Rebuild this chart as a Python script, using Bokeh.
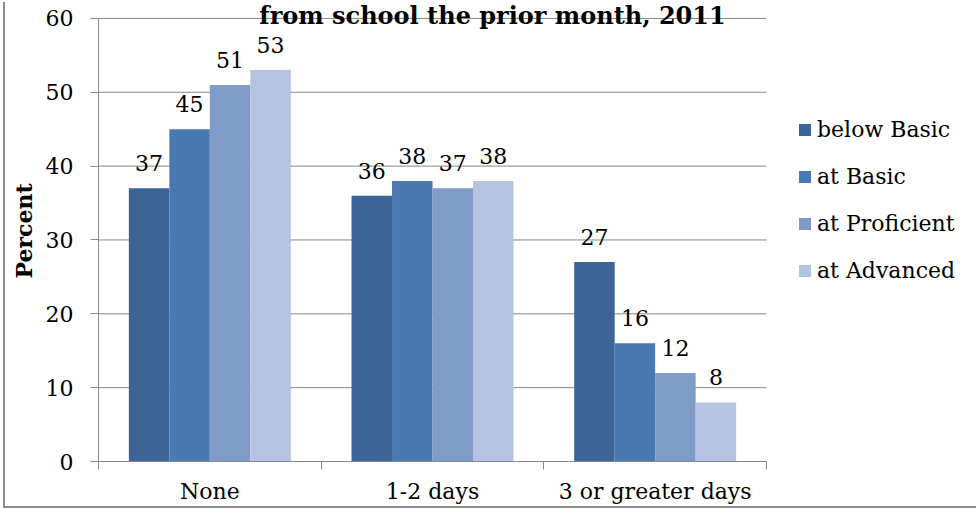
import numpy as np
from bokeh.plotting import figure
from bokeh.models import (ColumnDataSource, Range1d, FixedTicker, LabelSet, Label,
                          Legend, LegendItem)
from bokeh.embed import file_html
from bokeh.resources import INLINE
from bokeh.core.properties import value

# ---- data ----
categories = ["None", "1-2 days", "3 or greater days"]
series_names = ["below Basic", "at Basic", "at Proficient", "at Advanced"]
below_basic = [37, 36, 27]
at_basic = [45, 38, 16]
at_proficient = [51, 37, 12]
at_advanced = [53, 38, 8]
y_ticks = [0, 10, 20, 30, 40, 50, 60]
title_text = "from school the prior month, 2011"
y_label = "Percent"

series_values = [below_basic, at_basic, at_proficient, at_advanced]
colors = ["#3D6496", "#4A79B1", "#7E9CC7", "#B4C4E0"]

FONT = "DejaVu Serif"
GRAY = "#878787"
FS = "22px"

# ---- geometry (pixels) ----
CANVAS_W, CANVAS_H = 973, 506
LEFT, BOTTOM = 93, 43                 # space for the axes
PLOT_W, PLOT_H = 668, 445             # size of the bar area (0..60, 3 groups)
FRAME_W = CANVAS_W - LEFT
FRAME_H = CANVAS_H - BOTTOM
y_max = y_ticks[-1]
x_end = len(categories) * FRAME_W / PLOT_W
y_end = y_max * FRAME_H / PLOT_H

p = figure(width=CANVAS_W, height=CANVAS_H, x_range=Range1d(0, x_end),
           y_range=Range1d(0, y_end), output_backend="svg", toolbar_location=None,
           min_border_left=LEFT, min_border_right=0, min_border_top=0,
           min_border_bottom=BOTTOM)
p.outline_line_color = None
p.background_fill_color = "white"
p.border_fill_color = "white"
p.xgrid.visible = False
p.ygrid.visible = False

# horizontal gridlines over the bar area only
p.segment(x0=0, x1=len(categories), y0=y_ticks[1:], y1=y_ticks[1:],
          line_color=GRAY, line_width=1, level="underlay")

# bar geometry (Excel-like 150% gap width)
n_series = len(series_names)
bar_w = 1.0 / (n_series + 1.5)
cat_centers = np.arange(len(categories)) + 0.5

renderers = []
lab_x, lab_y, lab_t = [], [], []
for s, (name, vals, col) in enumerate(zip(series_names, series_values, colors)):
    xs = cat_centers + (s - (n_series - 1) / 2.0) * bar_w
    src = ColumnDataSource(dict(x=xs, top=vals))
    r = p.vbar(x="x", top="top", width=bar_w, source=src, fill_color=col,
               line_color=None)
    renderers.append(r)
    lab_x += list(xs)
    lab_y += list(vals)
    lab_t += [str(v) for v in vals]

labels = LabelSet(x="x", y="y", text="t",
                  source=ColumnDataSource(dict(x=lab_x, y=lab_y, t=lab_t)),
                  text_align="center", text_baseline="alphabetic", y_offset=17,
                  text_font=value(FONT), text_font_size=FS, text_color="black")
p.add_layout(labels)

# y axis
yax = p.yaxis[0]
yax.ticker = FixedTicker(ticks=y_ticks)
yax.bounds = (0, y_max)
yax.axis_line_color = GRAY
yax.major_tick_line_color = GRAY
yax.major_tick_out = 8
yax.major_tick_in = 0
yax.minor_tick_line_color = None
yax.major_label_standoff = 17
yax.major_label_text_font = FONT
yax.major_label_text_font_size = FS
yax.major_label_text_color = "black"
yax.axis_label = y_label
yax.axis_label_text_font = FONT
yax.axis_label_text_font_size = FS
yax.axis_label_text_font_style = "bold"
yax.axis_label_text_color = "black"
yax.axis_label_standoff = 6

# x axis: boundary ticks, category names in between
xax = p.xaxis[0]
xax.ticker = FixedTicker(ticks=list(cat_centers),
                         minor_ticks=list(range(len(categories) + 1)))
xax.bounds = (0, len(categories))
xax.major_label_overrides = {float(c): name for c, name in zip(cat_centers, categories)}
xax.axis_line_color = GRAY
xax.major_tick_line_color = None
xax.major_tick_out = 8
xax.major_tick_in = 0
xax.minor_tick_line_color = GRAY
xax.minor_tick_out = 8
xax.minor_tick_in = 0
xax.major_label_standoff = 9
xax.major_label_text_font = FONT
xax.major_label_text_font_size = FS
xax.major_label_text_color = "black"

# legend, right of the bar area
legend = Legend(items=[LegendItem(label=n, renderers=[r]) for n, r in zip(series_names, renderers)],
                location=(PLOT_W + 31, FRAME_H - 116 - 171), glyph_width=15, glyph_height=15,
                label_text_font=FONT, label_text_font_size=FS, label_text_color="black",
                label_standoff=5, spacing=17, label_height=30, padding=0, margin=0,
                border_line_color=None, background_fill_alpha=0)
p.add_layout(legend)

# title (its first line lies above the visible area, as in the reference)
title = Label(x=PLOT_W / 2 + 60, y=FRAME_H - 17, x_units="screen", y_units="screen",
              text=title_text, text_align="center", text_baseline="alphabetic",
              text_font=FONT, text_font_size="24px", text_font_style="bold",
              text_color="black")
p.add_layout(title)

p.styles = {"margin-left": "5px", "margin-top": "0px",
            "box-shadow": "-2px 2px 0 0 #8c8c8c"}

open("out.html", "w").write(file_html(p, INLINE))
